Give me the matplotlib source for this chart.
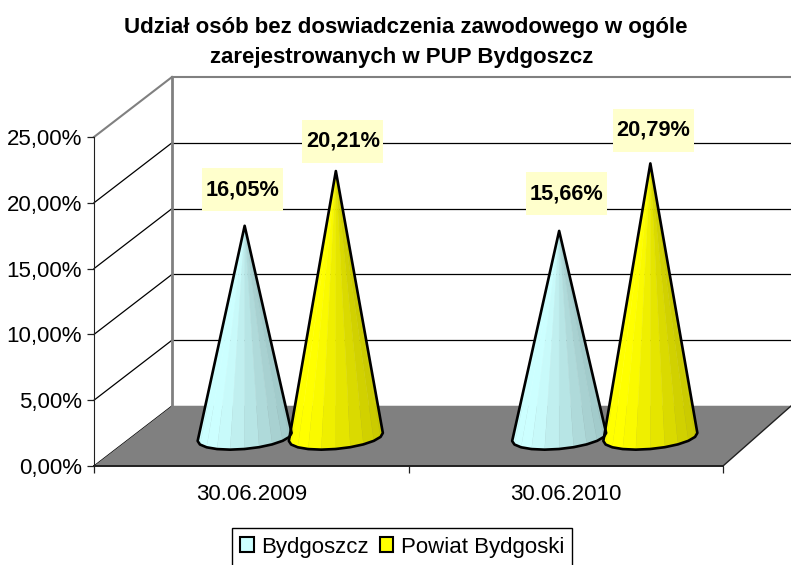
import numpy as np
import matplotlib
matplotlib.use("Agg")
import matplotlib.pyplot as plt
from matplotlib.patches import Patch, Polygon, Rectangle

plt.rcParams['font.family'] = ['Liberation Sans', 'DejaVu Sans']

categories = ['30.06.2009', '30.06.2010']
series_names = ['Bydgoszcz', 'Powiat Bydgoski']
bydgoszcz = [16.05, 15.66]
powiat = [20.21, 20.79]
label_texts = [['16,05%', '15,66%'], ['20,21%', '20,79%']]
y_ticks = [0, 5, 10, 15, 20, 25]
y_tick_labels = ['0,00%', '5,00%', '10,00%', '15,00%', '20,00%', '25,00%']

W, H = 791, 565
fig = plt.figure(figsize=(W / 100, H / 100), dpi=100)
# axes rectangle = front plane of the 3d box, in pixels
left, right, top, bottom = 94, 723, 137, 466
ax = fig.add_axes([left / W, 1 - bottom / H, (right - left) / W, (bottom - top) / H])
ax.set_xlim(0, 2)
ax.set_ylim(0, 25)
ax.patch.set_visible(False)

px_x = 2 / (right - left)    # data units for one pixel
px_y = 25 / (bottom - top)
depth_x = 78 * px_x          # shift of the back wall
depth_y = 60 * px_y
far_x = 2 + depth_x - 10 * px_x   # right wall is cut by the picture edge

grey = '#808080'
# floor
ax.add_patch(Polygon([(0, 0), (2, 0), (far_x, depth_y), (depth_x, depth_y)], closed=True,
                     fc=grey, ec='none', zorder=1, clip_on=False))
# back wall and side wall lines
for v in y_ticks[:-1]:
    ax.plot([depth_x, far_x], [v + depth_y, v + depth_y], color='black', lw=0.9, zorder=0.5, clip_on=False)
    ax.plot([0, depth_x], [v, v + depth_y], color='black', lw=0.9, zorder=0.5, clip_on=False)
ax.plot([depth_x, far_x], [25 + depth_y, 25 + depth_y], color=grey, lw=1.5, zorder=0.6, clip_on=False)
ax.plot([0, depth_x], [25, 25 + depth_y], color=grey, lw=1.5, zorder=0.6, clip_on=False)
ax.plot([depth_x, depth_x], [depth_y, 25 + depth_y], color=grey, lw=2, zorder=0.6, clip_on=False)
ax.plot([2, far_x], [0, depth_y], color='#202020', lw=1, zorder=1.2, clip_on=False)


def shade(rgb, t):
    # t runs 0..1 from left to right of the cone, lighter on the left third
    f = 1.0 - 0.22 * max(0.0, t - 0.2) / 0.8
    return tuple(c * f for c in rgb)


def draw_cone(cx, value, rgb):
    base_y = depth_y / 2 - 1 * px_y
    rx = 47 * px_x
    ry = 12 * px_y
    tilt = 4 * px_y
    angles = np.linspace(np.pi, 2 * np.pi, 11)
    xs = cx + rx * np.cos(angles)
    ys = base_y + ry * np.sin(angles) + tilt * np.cos(angles)
    apex = (cx, base_y + value)
    for i in range(len(angles) - 1):
        t = (xs[i] + xs[i + 1]) / 2
        t = (t - (cx - rx)) / (2 * rx)
        ax.add_patch(Polygon([apex, (xs[i], ys[i]), (xs[i + 1], ys[i + 1])], closed=True,
                             fc=shade(rgb, t), ec=shade(rgb, t), lw=0.3, zorder=2))
    outline = [apex] + list(zip(xs, ys))
    ax.add_patch(Polygon(outline, closed=True, fc='none', ec='black', lw=1.9, joinstyle='round', zorder=3))
    return apex


centers = [0.5, 1.5]
colors = [(0.80, 1.0, 1.0), (1.0, 1.0, 0.0)]
offsets = [[(-2, 36), (7, 37)], [(7, 30), (3, 33)]]   # label shift from the tip, pixels
for s, values in enumerate([bydgoszcz, powiat]):
    for c, value in enumerate(values):
        cx = centers[c] + (-0.145 if s == 0 else 0.145) + depth_x / 2
        apex = draw_cone(cx, value, colors[s])
        dx, dy = offsets[s][c]
        lx = apex[0] + dx * px_x
        ly = apex[1] + dy * px_y
        ax.add_patch(Rectangle((lx - 40.5 * px_x, ly - 21.5 * px_y), 81 * px_x, 43 * px_y,
                               fc='#FFFFCC', ec='none', zorder=4, clip_on=False))
        ax.text(lx, ly, label_texts[s][c], ha='center', va='center', fontsize=15.7,
                fontweight='bold', zorder=5)

# axes
for side in ['top', 'right']:
    ax.spines[side].set_visible(False)
ax.spines['left'].set_color('#202020')
ax.spines['bottom'].set_color('#202020')
ax.spines['bottom'].set_linewidth(1.4)
ax.spines['left'].set_zorder(1.5)
ax.spines['bottom'].set_zorder(1.5)
ax.set_yticks(y_ticks)
ax.set_yticklabels(y_tick_labels, fontsize=16)
ax.set_xticks([0, 1, 2])
ax.set_xticklabels([])
ax.set_xticks([0.5, 1.5], minor=True)
ax.set_xticklabels(categories, minor=True, fontsize=16)
ax.tick_params(axis='x', which='minor', length=0, pad=13)
ax.tick_params(axis='both', which='major', length=5, width=0.9, color='#202020', pad=3)
ax.tick_params(axis='y', which='major', pad=3.5)

fig.text(406 / W, 1 - 28 / H, 'Udział osób bez doswiadczenia zawodowego w ogóle', ha='center', va='center',
         fontsize=16, fontweight='bold')
fig.text(402 / W, 1 - 57 / H, 'zarejestrowanych w PUP Bydgoszcz', ha='center', va='center',
         fontsize=16, fontweight='bold')

handles = [Patch(fc=colors[0], ec='black', lw=1.5), Patch(fc=colors[1], ec='black', lw=1.5)]
leg = fig.legend(handles, series_names, loc='center', bbox_to_anchor=(402 / W, 1 - 547 / H), ncol=2,
                 fontsize=16, frameon=True, fancybox=False, edgecolor='black', framealpha=1,
                 handlelength=0.62, handleheight=0.62, handletextpad=0.32, columnspacing=0.5,
                 borderpad=0.38, borderaxespad=0)
leg.get_frame().set_linewidth(1)

fig.savefig('out.png', dpi=100)
